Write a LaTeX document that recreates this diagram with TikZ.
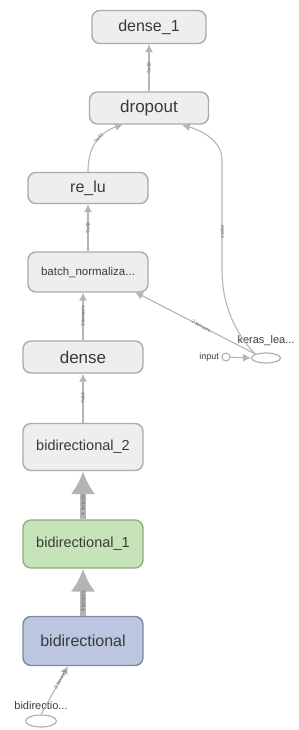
\documentclass[tikz,border=0pt]{standalone}
\usepackage{fontspec}
\setmainfont{Liberation Sans}
\usetikzlibrary{arrows.meta,shapes.geometric}
\definecolor{boxfill}{HTML}{EEEEF0}
\definecolor{boxline}{HTML}{ABABAB}
\definecolor{grnfill}{HTML}{C7E3B9}
\definecolor{grnline}{HTML}{90AE80}
\definecolor{blufill}{HTML}{BCC6E1}
\definecolor{bluline}{HTML}{7D879E}
\definecolor{edgegray}{HTML}{B4B4B4}
\definecolor{txtgray}{HTML}{3A3A3A}
\begin{document}
\begin{tikzpicture}[x=1pt,y=-1pt,
  opnode/.style={draw=boxline,fill=boxfill,line width=1.4pt,rounded corners=8pt,minimum width=119pt,text=txtgray,inner sep=0pt,font=\fontsize{16}{16}\selectfont},
  grnnode/.style={opnode,draw=grnline,fill=grnfill},
  blunode/.style={opnode,draw=bluline,fill=blufill},
  ovalnode/.style={ellipse,draw=boxline,fill=white,line width=1.1pt,inner sep=0pt},
  namelbl/.style={text=txtgray,inner sep=0pt,font=\fontsize{11}{11}\selectfont},
  edgelbl/.style={sloped,inner sep=0.5pt,text=gray!80!black,font=\fontsize{5}{5}\selectfont},
  thinarr/.style={draw=edgegray,line width=1.1pt,-{Latex[length=8pt,width=8pt]}},
  fatarr/.style={draw=edgegray,line width=6pt,-{Latex[length=23pt,width=25pt]}}]
\useasboundingbox (0,0) rectangle (299,730);
% layer boxes
\node[opnode,minimum width=114pt,minimum height=33pt] (dense1) at (149,27) {dense\_1};
\node[opnode,minimum height=32pt,font=\fontsize{17}{17}\selectfont] (dropout) at (149,108) {dropout};
\node[opnode,minimum width=120pt,minimum height=31pt] (relu) at (88,188) {re\_lu};
\node[opnode,minimum width=120pt,minimum height=40pt,font=\fontsize{11.5}{11.5}\selectfont] (bnorm) at (88,272) {batch\_normaliza...};
\node[opnode,minimum width=120pt,minimum height=32pt,font=\fontsize{17}{17}\selectfont] (dense) at (83,357) {dense};
\node[opnode,minimum width=120pt,minimum height=47pt,font=\fontsize{14.5}{14.5}\selectfont] (bidir2) at (83,447) {bidirectional\_2};
\node[grnnode,minimum width=120pt,minimum height=48pt,font=\fontsize{14.5}{14.5}\selectfont] (bidir1) at (83,544) {bidirectional\_1};
\node[blunode,minimum width=120pt,minimum height=49pt] (bidir) at (83,641) {bidirectional};
% inputs
\node[ovalnode,minimum width=31pt,minimum height=12pt] (bidirin) at (41,721) {};
\node[namelbl] (bidirinlbl) at (41,706) {bidirectio...};
\node[ovalnode,minimum width=29pt,minimum height=10pt] (keras) at (266,358) {};
\node[namelbl] (keraslbl) at (266,341) {keras\_lea...};
\node[circle,draw=boxline,line width=1pt,minimum size=8pt,inner sep=0pt] (inpt) at (226,357) {};
\node[namelbl,anchor=east,font=\fontsize{9}{9}\selectfont] (inptlbl) at (219,357) {input};
% edges
\draw[thinarr] (dropout.north) -- node[edgelbl]{?x32} (dense1.south);
\draw[thinarr] (relu.north) .. controls (88,140) and (105,131) .. node[edgelbl,pos=0.5]{?x32} (123,124);
\draw[thinarr] (keras.north west) .. controls (232,330) and (222,300) .. (222,270) -- node[edgelbl,pos=0.35]{scalar} (222,160) .. controls (222,140) and (200,130) .. (182,125);
\draw[thinarr] (bnorm.north) -- node[edgelbl]{?x32} (relu.south);
\draw[thinarr] (keras.north west) -- node[edgelbl,pos=0.45]{2 tensors} (135,292);
\draw[thinarr] (dense.north) -- node[edgelbl]{3 tensors} (dense.north |- bnorm.south);
\draw[thinarr] (bidir2.north) -- node[edgelbl]{?x64} (dense.south);
\draw[fatarr] (bidir1.north) -- node[edgelbl,pos=0.3]{4 tensors} (bidir2.south);
\draw[fatarr] (bidir.north) -- node[edgelbl,pos=0.3]{4 tensors} (bidir1.south);
\draw[thinarr] (bidirin.north) -- node[edgelbl,pos=0.72]{3 tensors} (68,666);
\draw[thinarr] (inpt) -- (keras.west);
\end{tikzpicture}
\end{document}
